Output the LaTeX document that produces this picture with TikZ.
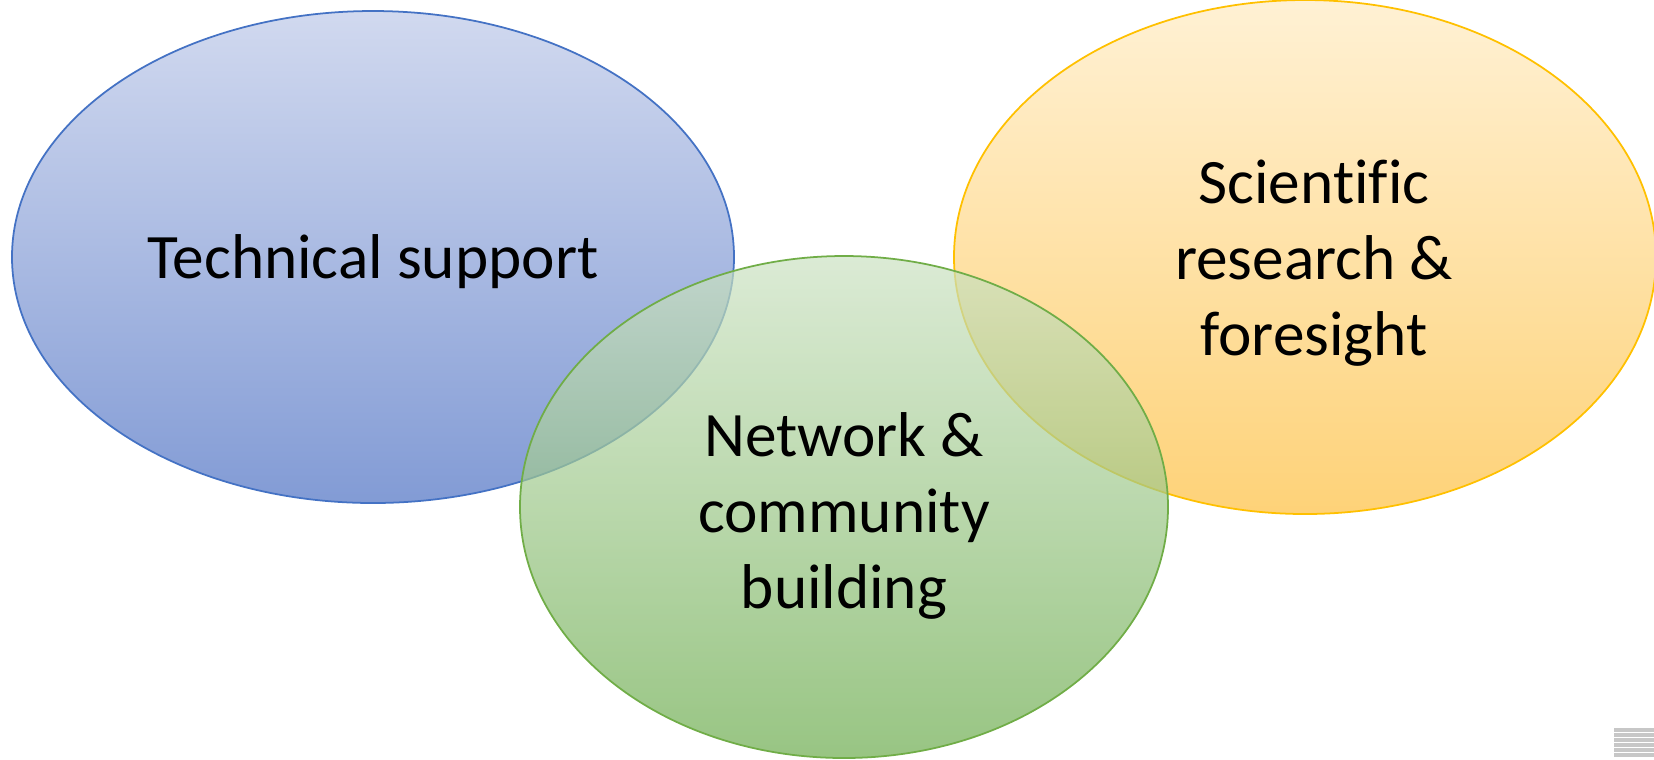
\documentclass[tikz,border=0pt]{standalone}
\usepackage{fontspec}
\setmainfont{Carlito}[Ligatures=CommonOff]
\definecolor{techtop}{RGB}{209,217,239}
\definecolor{techbot}{RGB}{130,155,213}
\definecolor{techline}{RGB}{68,114,196}
\definecolor{scitop}{RGB}{255,241,212}
\definecolor{scibot}{RGB}{254,210,120}
\definecolor{sciline}{RGB}{255,192,0}
\definecolor{nettop}{RGB}{204,226,195}
\definecolor{netbot}{RGB}{108,172,78}
\definecolor{netline}{RGB}{112,173,71}
\begin{document}
\begin{tikzpicture}[x=0.01cm,y=-0.01cm, font=\fontsize{18}{21.6}\selectfont, line join=round, line cap=round, line width=0.5pt,
	label/.style={align=center, inner sep=0pt}]
	\useasboundingbox (0,0) rectangle (1654,759);
	\path (373,257) coordinate (T)
	(1305,257) coordinate (S)
	(844,507) coordinate (N)
	;
	% three circles, green on top
	\draw[techline, top color=techtop, bottom color=techbot] (T) ellipse [x radius=361, y radius=246];
	\draw[sciline, top color=scitop, bottom color=scibot] (S) ellipse [x radius=351, y radius=257];
	\draw[netline, top color=nettop, bottom color=netbot, fill opacity=0.7] (N) ellipse [x radius=324, y radius=251];
	\node[label] (tech) at (373,262) {Technical support};
	\node[label] (sci) at (1314,263) {Scientific\\research \&\\foresight};
	\node[label] (net) at (844,516) {Network \&\\community\\building};
	% corner of a logo
	\foreach \y in {730,735,...,755}
		\draw[black!22, line width=1.2pt, line cap=butt] (1614,\y) -- (1654,\y);
\end{tikzpicture}
\end{document}
